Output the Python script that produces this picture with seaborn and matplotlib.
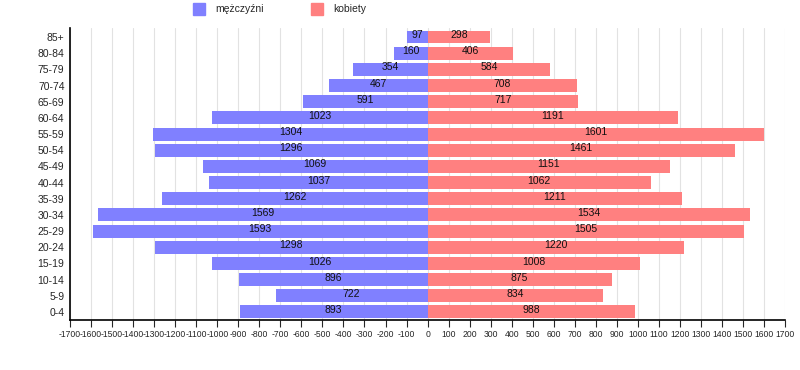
import numpy as np
import pandas as pd
import seaborn as sns
import matplotlib.pyplot as plt

# grupy wieku, od najstarszej (góra wykresu)
wiek = ['85+', '80-84', '75-79', '70-74', '65-69', '60-64', '55-59', '50-54', '45-49',
        '40-44', '35-39', '30-34', '25-29', '20-24', '15-19', '10-14', '5-9', '0-4']
mezczyzni = [97, 160, 354, 467, 591, 1023, 1304, 1296, 1069,
             1037, 1262, 1569, 1593, 1298, 1026, 896, 722, 893]
kobiety = [298, 406, 584, 708, 717, 1191, 1601, 1461, 1151,
           1062, 1211, 1534, 1505, 1220, 1008, 875, 834, 988]
ticks = list(range(-1700, 1701, 100))

df = pd.DataFrame({'wiek': wiek, 'm': [-v for v in mezczyzni], 'k': kobiety})

sns.set_style('white')
plt.rcParams['font.family'] = ['Liberation Sans', 'DejaVu Sans']

fig = plt.figure(figsize=(8, 3.7), dpi=100)
ax = fig.add_axes([0.0875, 0.135, 0.894, 0.789])

kol_m = '#8080ff'
kol_k = '#ff8080'
sns.barplot(data=df, y='wiek', x='m', orient='h', color=kol_m, width=0.8,
            saturation=1, linewidth=0, ax=ax, zorder=2)
sns.barplot(data=df, y='wiek', x='k', orient='h', color=kol_k, width=0.8,
            saturation=1, linewidth=0, ax=ax, zorder=2)

for i in range(len(wiek)):
    ax.text(-mezczyzni[i] / 2, i - 0.12, str(mezczyzni[i]), ha='center', va='center',
            fontsize=7.5, color='#111111', zorder=3)
    ax.text(kobiety[i] / 2, i - 0.12, str(kobiety[i]), ha='center', va='center',
            fontsize=7.5, color='#111111', zorder=3)

ax.set_xlim(-1700, 1700)
ax.set_ylim(17.5, -0.55)
ax.set_xticks(ticks)
ax.set_xticklabels([str(t) for t in ticks], fontsize=6.2)
ax.tick_params(axis='x', length=5, width=0.8, direction='out', pad=2, bottom=True)
ax.tick_params(axis='y', length=0, labelsize=7.5, pad=4)
ax.grid(axis='x', color='#e2e2e2', linewidth=0.8, zorder=0)
ax.set_axisbelow(True)
ax.set_xlabel('')
ax.set_ylabel('')
for s in ['top', 'right']:
    ax.spines[s].set_visible(False)
ax.spines['left'].set_color('black')
ax.spines['bottom'].set_color('black')
ax.spines['left'].set_linewidth(1.2)
ax.spines['bottom'].set_linewidth(1.2)

# legenda u góry
fig.patches.append(plt.Rectangle((193 / 800, 1 - 15 / 370), 12 / 800, 12 / 370,
                                 transform=fig.transFigure, color=kol_m))
fig.text(215 / 800, 1 - 9 / 370, 'mężczyźni', fontsize=7.5, va='center')
fig.patches.append(plt.Rectangle((311 / 800, 1 - 15 / 370), 12 / 800, 12 / 370,
                                 transform=fig.transFigure, color=kol_k))
fig.text(333 / 800, 1 - 9 / 370, 'kobiety', fontsize=7.5, va='center')

fig.savefig('out.png', dpi=100)
